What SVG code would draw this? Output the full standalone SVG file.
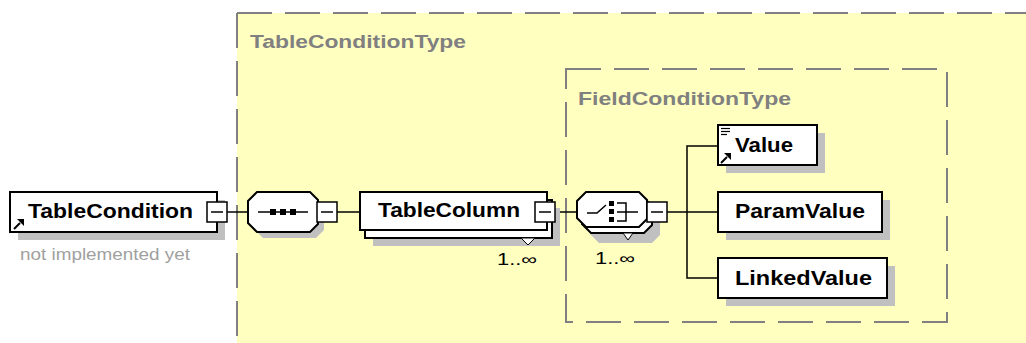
<svg xmlns="http://www.w3.org/2000/svg" width="1026" height="343" viewBox="0 0 1026 343">
<defs>
<style>
.shadow{fill:#c0c0c0;stroke:none}
.box{fill:#ffffff;stroke:#000000;stroke-width:2}
.minus{fill:#ffffff;stroke:#000000;stroke-width:1.5}
.mline{stroke:#000000;stroke-width:1.5}
.conn{stroke:#000000;stroke-width:1.5;fill:none}
.dash{fill:none;stroke:#808080;stroke-width:2;stroke-dasharray:35 13}
.lbl{font-family:"Liberation Sans",Arial,sans-serif;font-weight:bold;font-size:20px;fill:#000000}
.type{font-family:"Liberation Sans",Arial,sans-serif;font-weight:bold;font-size:19px;fill:#808080}
.note{font-family:"Liberation Sans",Arial,sans-serif;font-size:16px;fill:#a0a0a0}
.occ{font-family:"Liberation Sans",Arial,sans-serif;font-size:16px;fill:#000000}
.icon{fill:#000000;stroke:none}
</style>
</defs>
<rect x="0" y="0" width="1026" height="343" fill="#ffffff"/>

<g id="TableConditionType">
<rect x="237" y="13" width="800" height="340" fill="#ffffc0"/>
<path class="dash" d="M237,13 H1026 M237,13 V343"/>
<text class="type" x="250" y="48" textLength="216" lengthAdjust="spacingAndGlyphs">TableConditionType</text>
</g>

<g id="FieldConditionType">
<rect class="dash" x="566" y="69" width="381" height="253"/>
<text class="type" x="578" y="105" textLength="213" lengthAdjust="spacingAndGlyphs">FieldConditionType</text>
</g>

<g id="connectors">
<line class="conn" x1="227" y1="212" x2="248" y2="212"/>
<line class="conn" x1="337" y1="212" x2="360" y2="212"/>
<line class="conn" x1="555" y1="212" x2="577" y2="212"/>
<line class="conn" x1="667" y1="212" x2="718" y2="212"/>
<path class="conn" d="M718,146 H687 V278 H718"/>
</g>

<g id="TableCondition">
<rect class="shadow" x="18" y="200" width="207" height="40"/>
<rect class="box" x="10" y="192" width="207" height="40"/>
<line x1="14" y1="229" x2="20" y2="223" stroke="#000" stroke-width="2"/>
<polygon class="icon" points="24,219 17,219 24,226"/>
<text class="lbl" x="28" y="218" font-size="21" textLength="165" lengthAdjust="spacingAndGlyphs">TableCondition</text>
<rect class="minus" x="207" y="202" width="20" height="20"/>
<line class="mline" x1="211" y1="212" x2="223" y2="212"/>
<text class="note" x="20" y="260" textLength="170" lengthAdjust="spacingAndGlyphs">not implemented yet</text>
</g>

<g id="sequence">
<polygon class="shadow" points="263,198 316,198 324,206 324,230 316,238 263,238 254,229 254,207"/>
<polygon class="box" points="257,192 310,192 318,200 318,224 310,232 257,232 248,223 248,201"/>
<line class="mline" x1="258" y1="212" x2="308" y2="212"/>
<rect class="icon" x="270" y="209" width="6" height="6"/>
<rect class="icon" x="280" y="209" width="6" height="6"/>
<rect class="icon" x="290" y="209" width="6" height="6"/>
<rect class="minus" x="317" y="202" width="20" height="20"/>
<line class="mline" x1="321" y1="212" x2="333" y2="212"/>
</g>

<g id="TableColumn">
<rect class="shadow" x="373" y="208" width="187" height="38"/>
<rect class="box" x="365" y="200" width="187" height="38"/>
<rect class="box" x="360" y="192" width="187" height="38"/>
<polygon points="521,238 535,238 528,245" fill="#ffffff" stroke="#000" stroke-width="1"/>
<text class="lbl" x="378" y="217" textLength="142" lengthAdjust="spacingAndGlyphs">TableColumn</text>
<rect class="minus" x="535" y="202" width="20" height="20"/>
<line class="mline" x1="539" y1="212" x2="551" y2="212"/>
<text class="occ" x="497" y="265" textLength="40" lengthAdjust="spacingAndGlyphs">1..∞</text>
</g>

<g id="choice">
<polygon class="shadow" points="599,208 652,208 660,216 660,235 652,243 599,243 590,234 590,217"/>
<polygon class="box" points="591,198 644,198 652,206 652,225 644,233 591,233 582,224 582,207"/>
<polygon class="box" points="586,192 639,192 647,200 647,219 639,227 586,227 577,218 577,201"/>
<polygon points="623,233 633,233 628,240" fill="#ffffff" stroke="#000" stroke-width="1"/>
<path class="conn" d="M587,213 H597 L606,205"/>
<rect class="icon" x="609" y="201" width="5" height="5"/>
<rect class="icon" x="609" y="209" width="5" height="5"/>
<rect class="icon" x="609" y="217" width="5" height="5"/>
<path class="conn" d="M617,203 H626 V221 H617 M617,212 H638"/>
<rect class="minus" x="647" y="202" width="20" height="20"/>
<line class="mline" x1="651" y1="212" x2="663" y2="212"/>
<text class="occ" x="595" y="264" textLength="40" lengthAdjust="spacingAndGlyphs">1..∞</text>
</g>

<g id="Value">
<rect class="shadow" x="726" y="133" width="99" height="40"/>
<rect class="box" x="718" y="125" width="99" height="40"/>
<line x1="721" y1="128.5" x2="730" y2="128.5" stroke="#000" stroke-width="1.2"/>
<line x1="721" y1="131.5" x2="730" y2="131.5" stroke="#000" stroke-width="1.2"/>
<line x1="721" y1="134.5" x2="727" y2="134.5" stroke="#000" stroke-width="1.2"/>
<line x1="721" y1="163" x2="727" y2="157" stroke="#000" stroke-width="2"/>
<polygon class="icon" points="731,153 724,153 731,160"/>
<text class="lbl" x="735" y="152" font-size="19" textLength="58" lengthAdjust="spacingAndGlyphs">Value</text>
</g>

<g id="ParamValue">
<rect class="shadow" x="726" y="200" width="164" height="40"/>
<rect class="box" x="718" y="192" width="164" height="40"/>
<text class="lbl" x="735" y="218" font-size="19" textLength="130" lengthAdjust="spacingAndGlyphs">ParamValue</text>
</g>

<g id="LinkedValue">
<rect class="shadow" x="726" y="266" width="169" height="40"/>
<rect class="box" x="718" y="258" width="169" height="40"/>
<text class="lbl" x="735" y="285" font-size="19" textLength="137" lengthAdjust="spacingAndGlyphs">LinkedValue</text>
</g>
</svg>
